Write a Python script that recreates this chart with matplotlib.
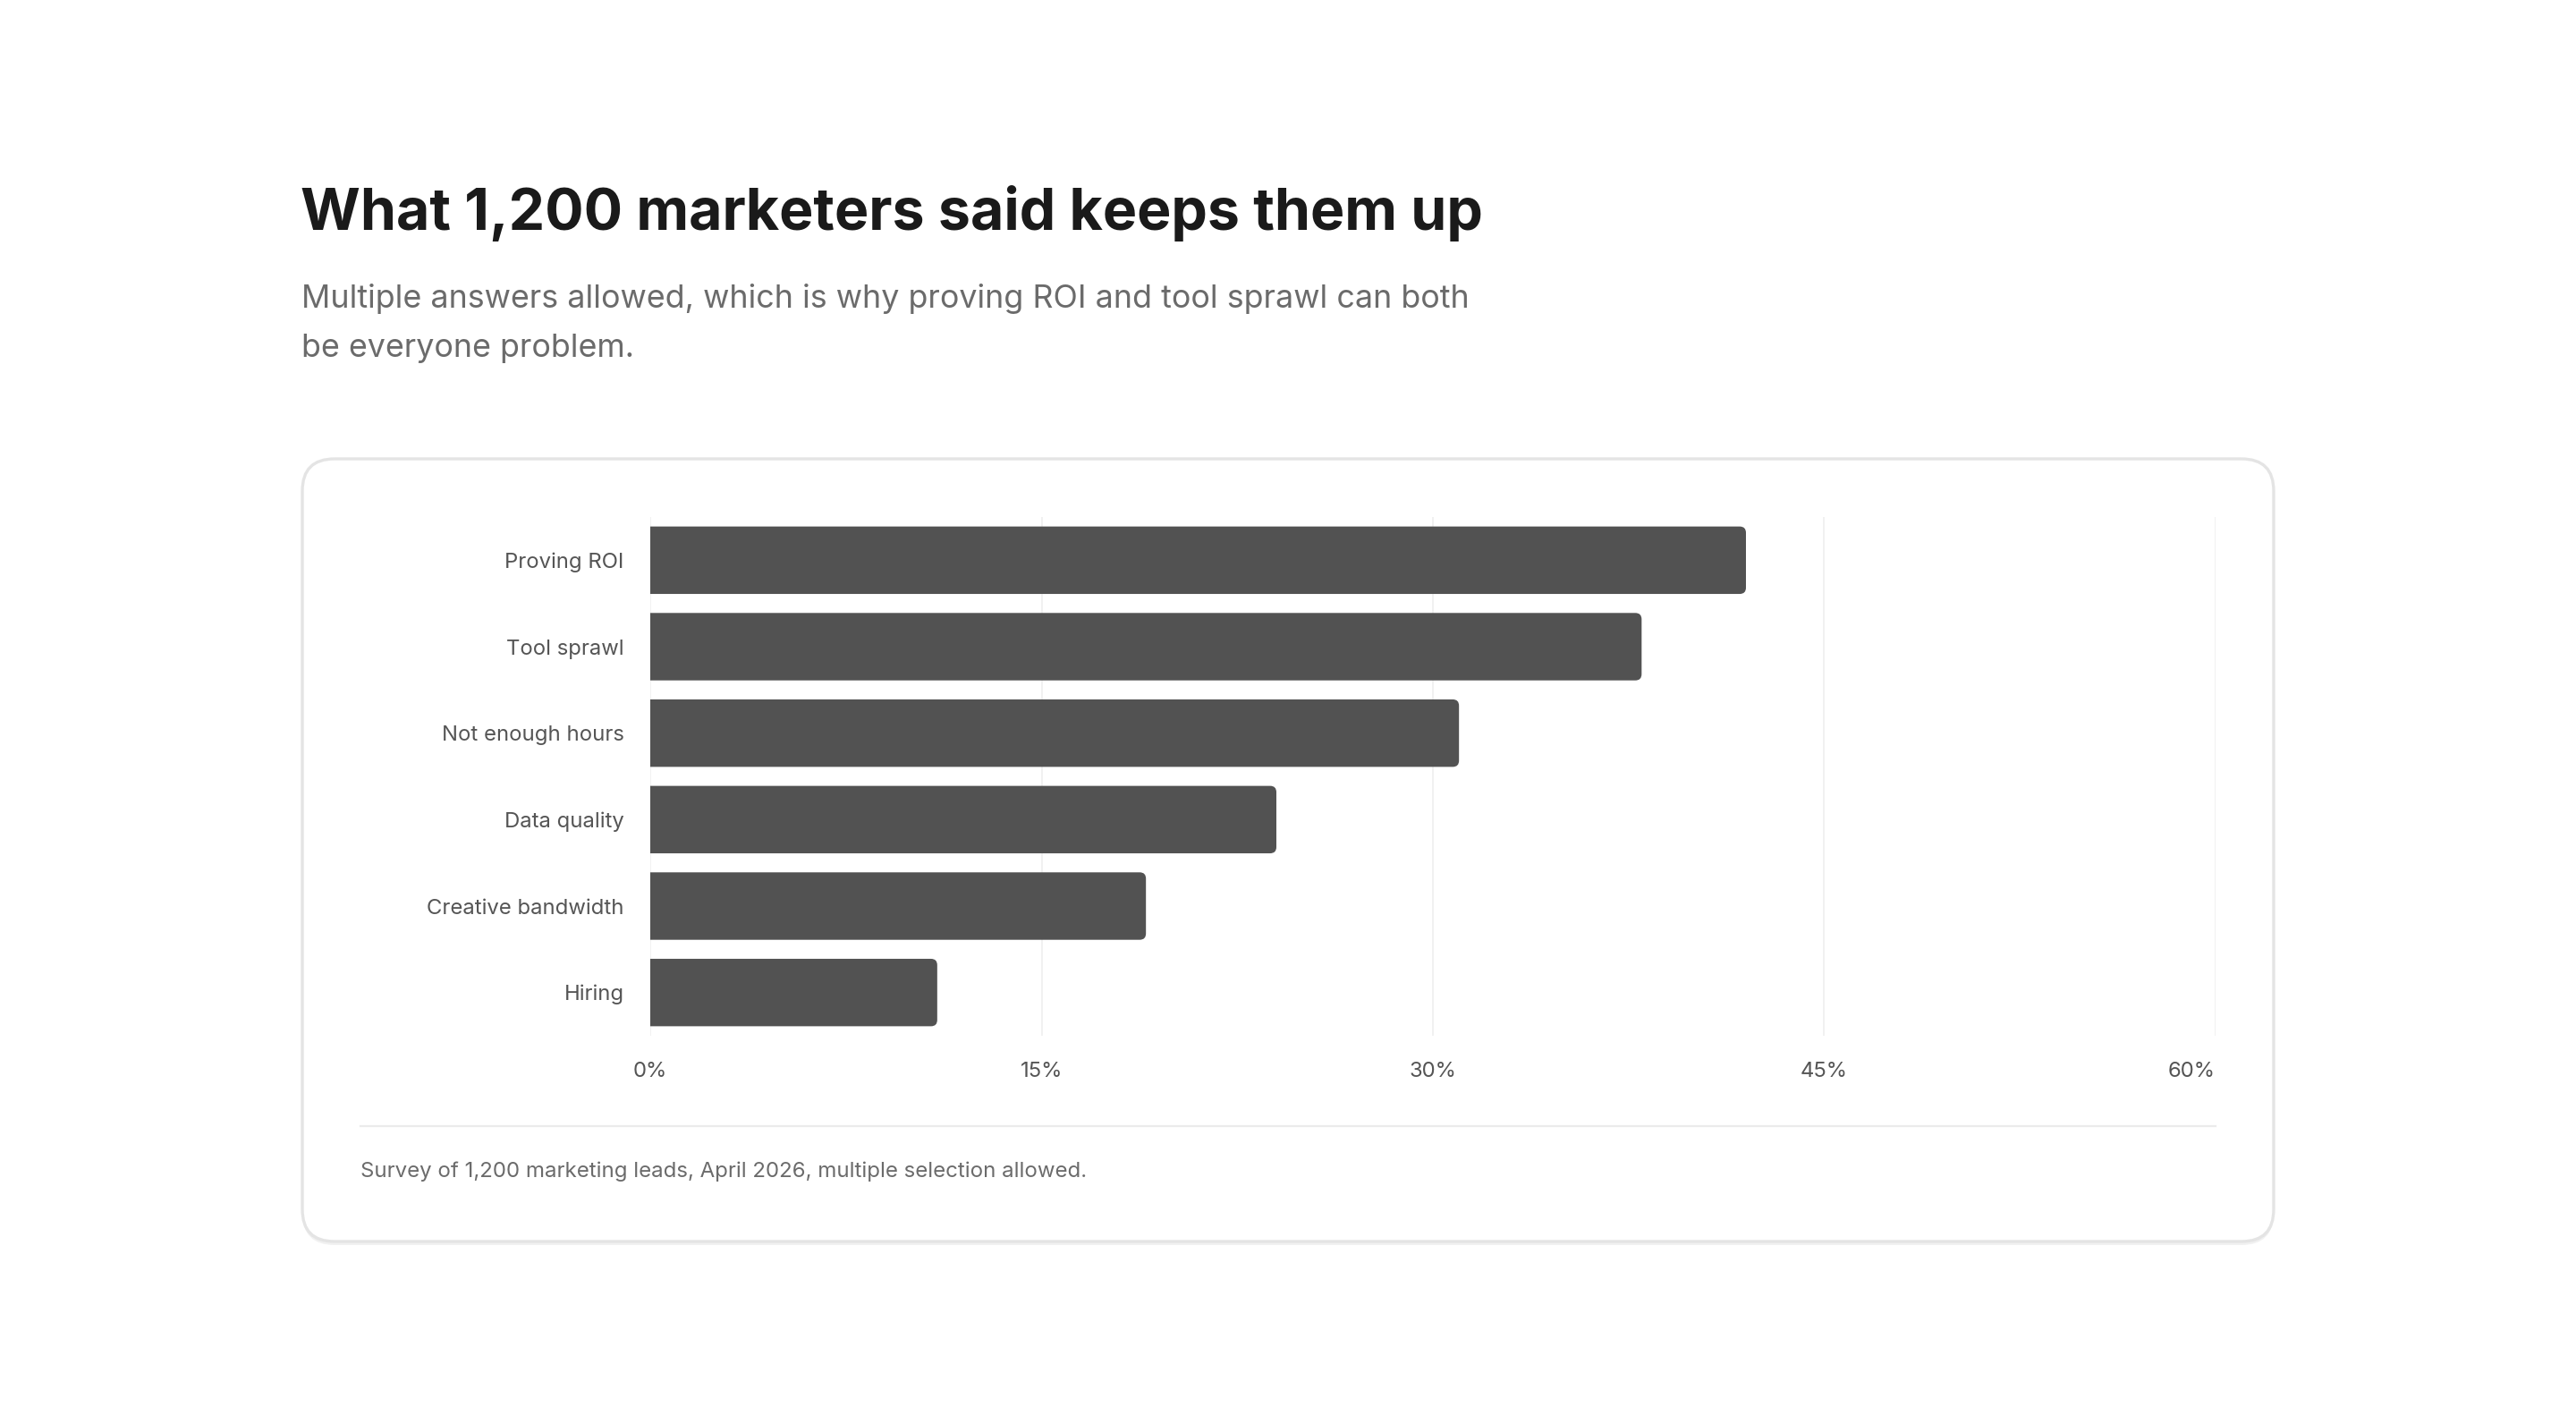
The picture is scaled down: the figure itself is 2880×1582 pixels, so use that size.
import matplotlib
matplotlib.use('Agg')
import matplotlib.pyplot as plt
from matplotlib.patches import FancyBboxPatch
from matplotlib.transforms import Affine2D

plt.rcParams['font.family'] = ['Inter', 'DejaVu Sans']

# data (percent of respondents)
categories = ['Proving ROI', 'Tool sprawl', 'Not enough hours',
              'Data quality', 'Creative bandwidth', 'Hiring']
shares = [42, 38, 31, 24, 19, 11]
x_ticks = [0, 15, 30, 45, 60]
x_tick_labels = ['0%', '15%', '30%', '45%', '60%']

TITLE = 'What 1,200 marketers said keeps them up'
SUBTITLE_LINES = ['Multiple answers allowed, which is why proving ROI and tool sprawl can both',
                  'be everyone problem.']
FOOTNOTE = 'Survey of 1,200 marketing leads, April 2026, multiple selection allowed.'

BAR_COLOR = '#525252'
TEXT_DARK = '#1a1a1a'
TEXT_MUTED = '#6b6b6b'
LABEL_COLOR = '#555555'
GRID_COLOR = '#efefef'
BORDER_COLOR = '#e4e4e4'

W, H, DPI = 2880, 1582, 200
fig = plt.figure(figsize=(W / DPI, H / DPI), dpi=DPI)
fig.patch.set_facecolor('white')

# pixel coordinates, origin at the top left
px = Affine2D().scale(1 / DPI, -1 / DPI).translate(0, H / DPI) + fig.dpi_scale_trans

# card with a faint shadow
card_x, card_y, card_w, card_h = 338, 513, 2204, 875
shadow = FancyBboxPatch((card_x, card_y + 4), card_w, card_h,
                        boxstyle='round,pad=0,rounding_size=36',
                        facecolor='#f1f1f1', edgecolor='none',
                        transform=px, zorder=0)
card = FancyBboxPatch((card_x, card_y), card_w, card_h,
                      boxstyle='round,pad=0,rounding_size=36',
                      facecolor='white', edgecolor=BORDER_COLOR, linewidth=1.2,
                      transform=px, zorder=1)
fig.patches.extend([shadow, card])

fig.text(336, 257, TITLE, transform=px, fontsize=23.2, fontweight='bold',
         color=TEXT_DARK, ha='left', va='baseline')
for i, line in enumerate(SUBTITLE_LINES):
    fig.text(337, 344 + i * 55, line, transform=px, fontsize=12.9,
             color=TEXT_MUTED, ha='left', va='baseline')

# chart axes
ax_l, ax_r, ax_t, ax_b = 727, 2477, 578, 1158
ax = fig.add_axes([ax_l / W, 1 - ax_b / H, (ax_r - ax_l) / W, (ax_b - ax_t) / H])
ax.set_facecolor('none')
ax.set_zorder(2)

ypos = list(range(len(categories)))
bars = ax.barh(ypos, shares, height=0.78, color=BAR_COLOR, zorder=3)

# swap the plain bars for ones rounded on the right end; the left end
# starts below zero so the axes clip takes its corners off
x_per_px = 60 / (ax_r - ax_l)
y_per_px = 6 / (ax_b - ax_t)
radius = 7 * x_per_px
for bar in bars:
    bar.set_visible(False)
    x0, y0 = bar.get_x(), bar.get_y()
    w, h = bar.get_width(), bar.get_height()
    ax.add_patch(FancyBboxPatch((x0 - 1, y0), w + 1, h,
                                boxstyle=f'round,pad=0,rounding_size={radius}',
                                mutation_aspect=y_per_px / x_per_px,
                                facecolor=BAR_COLOR, edgecolor='none', zorder=3))

ax.set_xlim(0, 60)
ax.set_ylim(len(categories) - 0.5, -0.5)
ax.set_xticks(x_ticks)
ax.set_xticklabels(x_tick_labels)
ax.set_yticks(ypos)
ax.set_yticklabels(categories)
ax.xaxis.grid(True, color=GRID_COLOR, linewidth=0.6, zorder=0)
ax.set_axisbelow(True)
for side in ax.spines.values():
    side.set_visible(False)
ax.tick_params(axis='x', length=0, pad=10.3, labelsize=8.6, labelcolor=LABEL_COLOR)
ax.tick_params(axis='y', length=0, pad=10.5, labelsize=8.6, labelcolor=LABEL_COLOR)
ax.get_xticklabels()[-1].set_horizontalalignment('right')

# divider and footnote
fig.add_artist(plt.Line2D([403, 2477], [1259, 1259], transform=px,
                          color='#ebebeb', linewidth=0.8, zorder=2))
fig.text(403, 1310, FOOTNOTE, transform=px, fontsize=8.65, color=TEXT_MUTED,
         ha='left', va='center')

fig.savefig('out.png', dpi=DPI, facecolor='white')
